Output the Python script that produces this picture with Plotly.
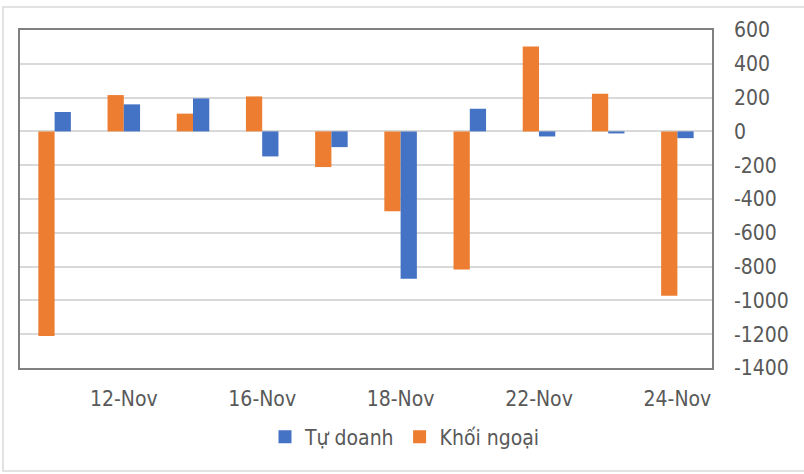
import plotly.graph_objects as go

categories = ["11-Nov", "12-Nov", "15-Nov", "16-Nov", "17-Nov",
              "18-Nov", "19-Nov", "22-Nov", "23-Nov", "24-Nov"]
khoi_ngoai = [-1210, 215, 105, 207, -211, -472, -817, 503, 223, -973]
tu_doanh = [115, 160, 195, -148, -93, -872, 134, -30, -12, -40]
tick_labels = ["12-Nov", "16-Nov", "18-Nov", "22-Nov", "24-Nov"]
y_ticks = list(range(-1400, 601, 200))

FONT = "DejaVu Sans Condensed, DejaVu Sans, sans-serif"
TXT = "#595959"
ORANGE = "#ED7D31"
BLUE = "#4472C4"

fig = go.Figure()
fig.add_trace(go.Bar(x=categories, y=khoi_ngoai, name="Khối ngoại",
                     marker=dict(color=ORANGE, line=dict(width=0)),
                     showlegend=False))
fig.add_trace(go.Bar(x=categories, y=tu_doanh, name="Tự doanh",
                     marker=dict(color=BLUE, line=dict(width=0)),
                     showlegend=False))
# legend entries with square swatches
fig.add_trace(go.Scatter(x=[None], y=[None], mode="markers", name="Tự doanh",
                         marker=dict(symbol="square", size=13, color=BLUE),
                         legendrank=1))
fig.add_trace(go.Scatter(x=[None], y=[None], mode="markers", name="Khối ngoại",
                         marker=dict(symbol="square", size=13, color=ORANGE),
                         legendrank=2))

W, H = 804, 474
L, R, T, B = 20, 92, 30, 106
pw, ph = W - L - R, H - T - B

def px(x):
    return (x - L) / pw

def py(y):
    return (H - B - y) / ph

fig.update_layout(
    width=W, height=H,
    margin=dict(l=L, r=R, t=T, b=B, autoexpand=False),
    paper_bgcolor="white", plot_bgcolor="white",
    barmode="group", bargap=0.53, bargroupgap=0,
    font=dict(family=FONT, size=21, color=TXT),
    showlegend=True,
    legend=dict(orientation="h", x=px(405), xanchor="center",
                y=py(437), yanchor="middle",
                font=dict(size=21, color=TXT), itemwidth=30,
                traceorder="normal"),
    xaxis=dict(tickmode="array", tickvals=tick_labels, ticktext=tick_labels,
               showgrid=False, zeroline=False, ticks="", showline=True,
               linecolor="#808080", linewidth=1.5, mirror=True, automargin=False,
               tickfont=dict(size=21, color=TXT), ticklabelstandoff=11),
    yaxis=dict(side="right", range=[-1400, 600], tickmode="array",
               tickvals=y_ticks, ticktext=[str(v) for v in y_ticks],
               showgrid=True, gridcolor="#D9D9D9", gridwidth=1.5,
               zeroline=True, zerolinecolor="#D9D9D9", zerolinewidth=1.5,
               showline=True, linecolor="#808080", linewidth=1.5, mirror=True,
               automargin=False,
               ticks="", tickfont=dict(size=21, color=TXT), ticklabelstandoff=16),
    shapes=[dict(type="rect", xref="paper", yref="paper",
                 x0=px(3), x1=px(808), y0=py(471), y1=py(7),
                 line=dict(color="#D9D9D9", width=1.5), layer="below")],
)

fig.write_html("out.html", config={"displayModeBar": False},
               post_script="document.body.style.margin='0';")
